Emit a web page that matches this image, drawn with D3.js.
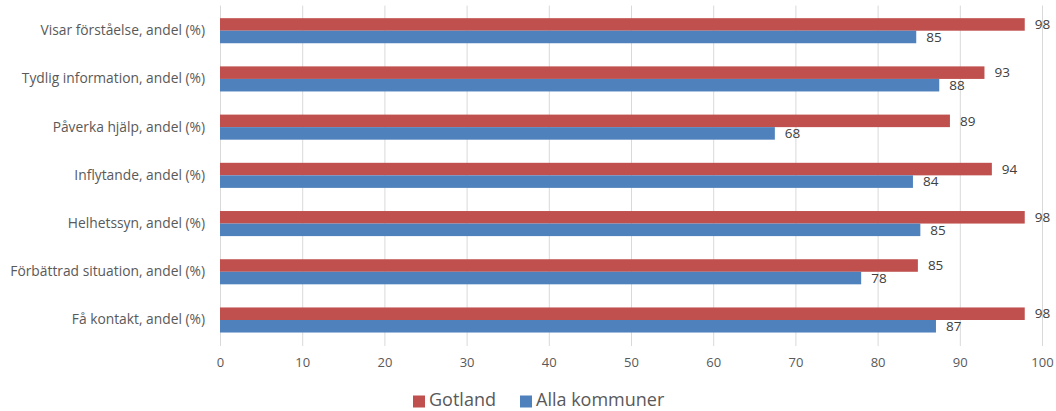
<!DOCTYPE html>
<html>
<head>
<meta charset="utf-8">
<script src="https://cdn.jsdelivr.net/npm/d3@7"></script>
<style>
  body { margin: 0; background: #fff; }
  svg { display: block; font-family: "Open Sans", "Liberation Sans", sans-serif; }
</style>
</head>
<body>
<svg width="1056" height="411"></svg>
<script>
const categories = [
  "Visar förståelse, andel (%)",
  "Tydlig information, andel (%)",
  "Påverka hjälp, andel (%)",
  "Inflytande, andel (%)",
  "Helhetssyn, andel (%)",
  "Förbättrad situation, andel (%)",
  "Få kontakt, andel (%)"
];
const gotland = [97.9, 93.0, 88.8, 93.9, 97.9, 84.9, 97.9];
const allaKommuner = [84.7, 87.5, 67.5, 84.3, 85.2, 78.0, 87.1];
const xTicks = [0, 10, 20, 30, 40, 50, 60, 70, 80, 90, 100];

const seriesNames = ["Gotland", "Alla kommuner"];
const seriesValues = [gotland, allaKommuner];
const colors = ["#C0504D", "#4F81BD"];

const svg = d3.select("svg");
const margin = { top: 6.6, right: 14, bottom: 67, left: 220 };

const x = d3.scaleLinear()
  .domain([0, 100])
  .range([margin.left, 1042]);

const y = d3.scaleBand()
  .domain(categories)
  .range([margin.top, 344.1])
  .paddingInner(0.48)
  .paddingOuter(0.24);

const ySeries = d3.scaleBand()
  .domain(seriesNames)
  .range([0, y.bandwidth()]);

// gridlines
svg.append("g")
  .selectAll("line")
  .data(xTicks)
  .join("line")
  .attr("x1", d => x(d) + 0.5)
  .attr("x2", d => x(d) + 0.5)
  .attr("y1", margin.top - 1)
  .attr("y2", 346)
  .attr("stroke", "#d9d9d9")
  .attr("stroke-width", 1);

// x axis labels
const xAxis = svg.append("g")
  .attr("transform", "translate(0,346)")
  .call(d3.axisBottom(x).tickValues(xTicks).tickSize(0).tickPadding(12));
xAxis.select(".domain").remove();
xAxis.selectAll("text")
  .attr("fill", "#595959")
  .style("font-size", "13px")
  .style("font-family", "\"Open Sans\", sans-serif");

// category labels
const yAxis = svg.append("g")
  .attr("transform", `translate(${margin.left},0)`)
  .call(d3.axisLeft(y).tickSize(0).tickPadding(15));
yAxis.select(".domain").remove();
yAxis.selectAll("text")
  .attr("fill", "#595959")
  .style("font-size", "13.8px")
  .style("font-family", "\"Open Sans\", sans-serif");

// bars
const groups = svg.append("g")
  .selectAll("g")
  .data(categories)
  .join("g")
  .attr("transform", d => `translate(0,${y(d)})`);

seriesNames.forEach((s, si) => {
  groups.append("rect")
    .attr("x", x(0))
    .attr("y", ySeries(s))
    .attr("height", ySeries.bandwidth())
    .attr("width", (d, i) => x(seriesValues[si][i]) - x(0))
    .attr("fill", colors[si]);

  groups.append("text")
    .attr("x", (d, i) => x(seriesValues[si][i]) + 10)
    .attr("y", ySeries(s) + ySeries.bandwidth() / 2)
    .attr("dy", "0.35em")
    .attr("fill", "#404040")
    .style("font-size", "13.5px")
    .text((d, i) => d3.format(".0f")(seriesValues[si][i]));
});

// legend
const legend = svg.append("g").attr("transform", "translate(413,401.5)");
const legendX = [0, 107];
seriesNames.forEach((s, i) => {
  const g = legend.append("g").attr("transform", `translate(${legendX[i]},0)`);
  g.append("rect")
    .attr("x", 0).attr("y", -6)
    .attr("width", 12).attr("height", 12)
    .attr("fill", colors[i]);
  g.append("text")
    .attr("x", 16).attr("y", 4.5)
    .attr("fill", "#595959")
    .style("font-size", "18px")
    .text(s);
});
</script>
</body>
</html>
